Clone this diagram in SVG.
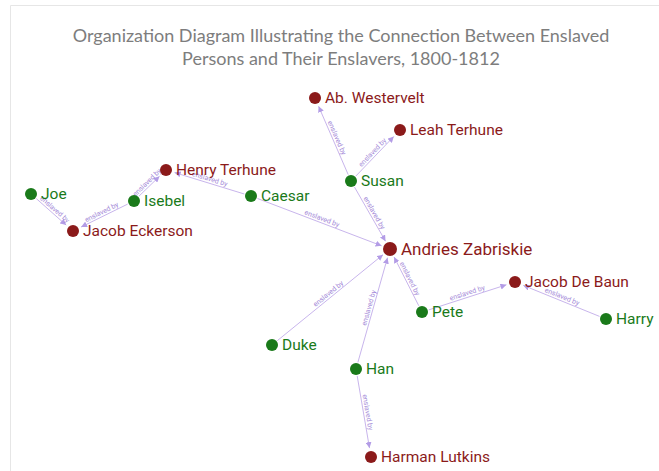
<svg xmlns="http://www.w3.org/2000/svg" width="659" height="471" viewBox="0 0 659 471">
<defs>
<style>
.frame{stroke:#e6e6e6;stroke-width:1;fill:none}
.title{font-family:Lato,"Open Sans",sans-serif;font-size:18px;fill:#7d7d7d;text-anchor:middle}
.e{stroke:#c8b5ec;stroke-width:1;fill:none;marker-end:url(#arr)}
.el{font-family:Roboto,"Liberation Sans",sans-serif;font-size:7px;fill:#a48ad8;text-anchor:middle}
.g circle{fill:#1a7a1a}
.r circle{fill:#8b1a1a}
.g text{fill:#1a7a1a}
.r text{fill:#8b1a1a}
.n text{font-family:Roboto,"Liberation Sans",sans-serif;font-size:15.5px}
</style>
<marker id="arr" markerUnits="userSpaceOnUse" markerWidth="7" markerHeight="6" refX="6" refY="3" orient="auto">
<path d="M0,0 L6,3 L0,6 z" fill="#b39ce6"/>
</marker>
</defs>
<rect width="659" height="471" fill="#fff"/>
<path class="frame" d="M10.5,471 V5.5 H659"/>
<text class="title" x="341" y="42">Organization Diagram Illustrating the Connection Between Enslaved</text>
<text class="title" x="341" y="65">Persons and Their Enslavers, 1800-1812</text>
<g id="edges">
<line class="e" x1="36.3" y1="198.6" x2="66.2" y2="225.1"/>
<text class="el" transform="translate(52,212.5) rotate(41.4)" y="-2">enslaved by</text>
<line class="e" x1="127.7" y1="204.1" x2="81.1" y2="227"/>
<text class="el" transform="translate(103.5,216) rotate(-26.2)" y="-2">enslaved by</text>
<line class="e" x1="139" y1="196.1" x2="159.5" y2="176.3"/>
<text class="el" transform="translate(150,185.5) rotate(-44.1)" y="-2">enslaved by</text>
<line class="e" x1="244.3" y1="194" x2="174.6" y2="172.6"/>
<text class="el" transform="translate(208.5,183) rotate(17)" y="-2">enslaved by</text>
<line class="e" x1="257.5" y1="198.5" x2="381.6" y2="245.8"/>
<text class="el" transform="translate(320.5,222.5) rotate(20.9)" y="-2">enslaved by</text>
<line class="e" x1="348.2" y1="174.6" x2="318.6" y2="106.3"/>
<text class="el" transform="translate(333,139.5) rotate(66.6)" y="-2">enslaved by</text>
<line class="e" x1="355.9" y1="176" x2="393.8" y2="136.5"/>
<text class="el" transform="translate(375.5,155.5) rotate(-46.2)" y="-2">enslaved by</text>
<line class="e" x1="354.5" y1="187.1" x2="385.5" y2="241.2"/>
<text class="el" transform="translate(370.5,215) rotate(60.2)" y="-2">enslaved by</text>
<line class="e" x1="418.8" y1="305.8" x2="394.1" y2="257"/>
<text class="el" transform="translate(406,280.5) rotate(63.1)" y="-2">enslaved by</text>
<line class="e" x1="428.7" y1="309.9" x2="506.4" y2="284.8"/>
<text class="el" transform="translate(468.5,297) rotate(-17.9)" y="-2">enslaved by</text>
<line class="e" x1="599.5" y1="316.4" x2="523.3" y2="285.4"/>
<text class="el" transform="translate(560.5,300.5) rotate(22.1)" y="-2">enslaved by</text>
<line class="e" x1="277.4" y1="340.6" x2="383" y2="254.7"/>
<text class="el" transform="translate(331,297) rotate(-39.1)" y="-2">enslaved by</text>
<line class="e" x1="357.9" y1="362.3" x2="387.5" y2="257.7"/>
<text class="el" transform="translate(373,309) rotate(-74.2)" y="-2">enslaved by</text>
<line class="e" x1="357.2" y1="375.9" x2="369.5" y2="448.1"/>
<text class="el" transform="translate(363.5,413) rotate(80.3)" y="-2">enslaved by</text>
</g>
<g id="joe" class="n g"><circle cx="31" cy="194" r="6"/><text x="41" y="199">Joe</text></g>
<g id="jacob-eckerson" class="n r"><circle cx="73" cy="231" r="6"/><text x="83" y="236">Jacob Eckerson</text></g>
<g id="isebel" class="n g"><circle cx="134" cy="201" r="6"/><text x="144" y="206">Isebel</text></g>
<g id="henry-terhune" class="n r"><circle cx="166" cy="170" r="6"/><text x="176" y="175">Henry Terhune</text></g>
<g id="caesar" class="n g"><circle cx="251" cy="196" r="6"/><text x="261" y="201">Caesar</text></g>
<g id="ab-westervelt" class="n r"><circle cx="315" cy="98" r="6"/><text x="325" y="103">Ab. Westervelt</text></g>
<g id="leah-terhune" class="n r"><circle cx="400" cy="130" r="6"/><text x="410" y="135">Leah Terhune</text></g>
<g id="susan" class="n g"><circle cx="351" cy="181" r="6"/><text x="361" y="186">Susan</text></g>
<g id="andries-zabriskie" class="n r"><circle cx="390" cy="249" r="7"/><text x="401" y="255" style="font-size:17px">Andries Zabriskie</text></g>
<g id="jacob-de-baun" class="n r"><circle cx="515" cy="282" r="6"/><text x="525" y="287">Jacob De Baun</text></g>
<g id="pete" class="n g"><circle cx="422" cy="312" r="6"/><text x="432" y="317">Pete</text></g>
<g id="harry" class="n g"><circle cx="606" cy="319" r="6"/><text x="616" y="324">Harry</text></g>
<g id="duke" class="n g"><circle cx="272" cy="345" r="6"/><text x="282" y="350">Duke</text></g>
<g id="han" class="n g"><circle cx="356" cy="369" r="6"/><text x="366" y="374">Han</text></g>
<g id="harman-lutkins" class="n r"><circle cx="371" cy="457" r="6"/><text x="381" y="462">Harman Lutkins</text></g>
</svg>
